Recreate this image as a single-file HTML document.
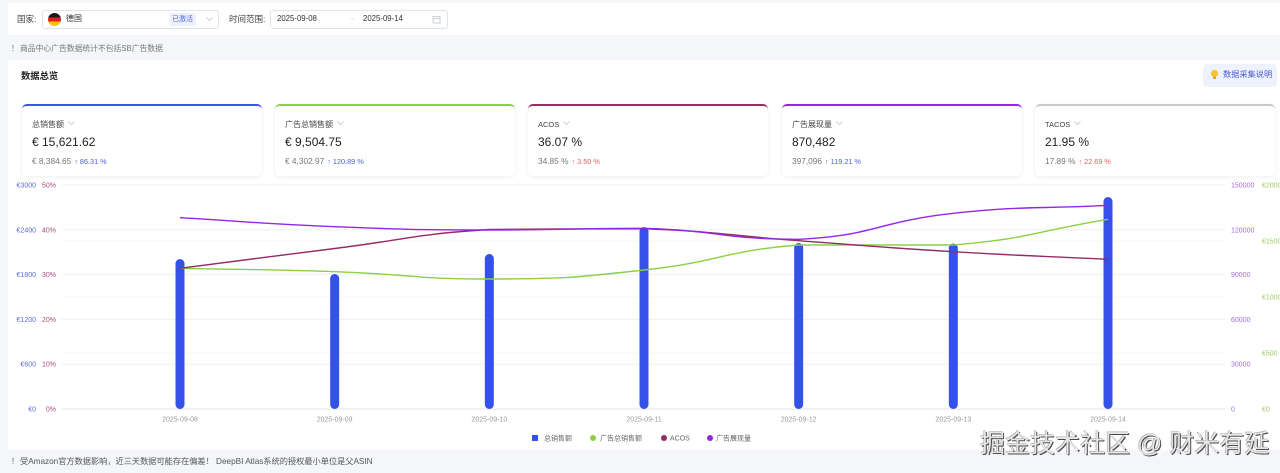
<!DOCTYPE html>
<html><head><meta charset="utf-8">
<style>
*{margin:0;padding:0;box-sizing:border-box}
body{width:1280px;height:473px;overflow:hidden;background:#f4f6f9;position:relative;font-family:"Liberation Sans","Noto Sans CJK SC",sans-serif;color:#333}
.a{position:absolute;white-space:nowrap}
.t{line-height:1}
.card{position:absolute;top:104px;width:240px;height:72px;background:#fff;border-radius:5px;box-shadow:0 1px 4px rgba(0,0,0,0.07);border-top:2.5px solid #3b55e6}
.card .ti{position:absolute;left:10px;top:13.5px;font-size:8px;color:#444;line-height:10px}
.card .ti svg{margin-left:4px;vertical-align:1px}
.card .v{position:absolute;left:10px;top:29px;font-size:12px;color:#222;line-height:14px}
.card .c{position:absolute;left:10px;top:50px;font-size:8.3px;color:#777;line-height:10px}
.card .c .up{font-size:7.3px;color:#4a5fd8;margin-left:3px}
.card .c .dn{font-size:7.3px;color:#ef5b5b;margin-left:3px}
</style></head><body>
<!-- top bar -->
<div class="a" style="left:8px;top:3px;width:1272px;height:32px;background:#fff"></div>
<div class="a t" style="left:17px;top:14.5px;font-size:8.5px;color:#444">国家:</div>
<div class="a" style="left:42px;top:10px;width:177px;height:19px;border:1px solid #e1e4ea;border-radius:3px;background:#fff"></div>
<div class="a" style="left:48px;top:13px;width:13px;height:13px;border-radius:50%;background:linear-gradient(#1a1a1a 0,#1a1a1a 33%,#dd1f1f 33%,#dd1f1f 66%,#f5c400 66%)"></div>
<div class="a t" style="left:66px;top:15px;font-size:8px;color:#333">德国</div>
<div class="a t" style="left:169px;top:13px;width:27px;height:13px;background:#edf1fe;color:#4f6ae0;font-size:7px;line-height:13px;text-align:center;border-radius:2px">已激活</div>
<svg class="a" style="left:206px;top:17px" width="7" height="5"><polyline points="0.5,0.5 3.5,3.5 6.5,0.5" fill="none" stroke="#c0c4cc" stroke-width="0.8"/></svg>
<div class="a t" style="left:229px;top:14.5px;font-size:8.5px;color:#444">时间范围:</div>
<div class="a" style="left:270px;top:10px;width:178px;height:19px;border:1px solid #e1e4ea;border-radius:3px;background:#fff"></div>
<div class="a t" style="left:277px;top:15px;font-size:7.8px;color:#333">2025-09-08</div>
<div class="a t" style="left:348px;top:15px;font-size:7px;color:#c8c8c8">→</div>
<div class="a t" style="left:363px;top:15px;font-size:7.8px;color:#333">2025-09-14</div>
<svg class="a" style="left:432px;top:15px" width="9" height="9"><rect x="1" y="1.5" width="7" height="6.5" fill="none" stroke="#c0c4cc" stroke-width="0.8"/><line x1="1" y1="3.5" x2="8" y2="3.5" stroke="#c0c4cc" stroke-width="0.8"/></svg>
<!-- note -->
<div class="a t" style="left:11px;top:45px;font-size:8px;color:#777">！</div>
<div class="a t" style="left:20px;top:45px;font-size:7.8px;color:#777">商品中心广告数据统计不包括SB广告数据</div>
<!-- panel -->
<div class="a" style="left:8px;top:60px;width:1272px;height:390px;background:#fff"></div>
<div class="a t" style="left:21px;top:72px;font-size:9.3px;font-weight:bold;color:#222">数据总览</div>
<div class="a" style="left:1203px;top:64px;width:74px;height:23px;background:#eef2fc;border-radius:4px"></div>
<svg class="a" style="left:1210px;top:69px" width="9" height="12"><circle cx="4.5" cy="4.5" r="3.6" fill="#f7c531"/><rect x="3" y="7.5" width="3" height="2.5" fill="#e6a817"/></svg>
<div class="a t" style="left:1223px;top:71px;font-size:8.2px;color:#4a5bd4">数据采集说明</div>
<!-- cards -->
<div class="card" style="left:22px;border-top-color:#3b55e6"><div class="ti">总销售额<svg width="7" height="5"><polyline points="0.5,0.5 3.5,3.5 6.5,0.5" fill="none" stroke="#c0c4cc" stroke-width="0.8"/></svg></div><div class="v">€ 15,621.62</div><div class="c">€ 8,384.65<span class="up">↑ 86.31 %</span></div></div>
<div class="card" style="left:275px;border-top-color:#8cd046"><div class="ti">广告总销售额<svg width="7" height="5"><polyline points="0.5,0.5 3.5,3.5 6.5,0.5" fill="none" stroke="#c0c4cc" stroke-width="0.8"/></svg></div><div class="v">€ 9,504.75</div><div class="c">€ 4,302.97<span class="up">↑ 120.89 %</span></div></div>
<div class="card" style="left:528px;border-top-color:#9a2b62"><div class="ti" style="font-size:7.5px">ACOS<svg width="7" height="5"><polyline points="0.5,0.5 3.5,3.5 6.5,0.5" fill="none" stroke="#c0c4cc" stroke-width="0.8"/></svg></div><div class="v">36.07 %</div><div class="c">34.85 %<span class="dn">↑ 3.50 %</span></div></div>
<div class="card" style="left:782px;border-top-color:#9327e6"><div class="ti">广告展现量<svg width="7" height="5"><polyline points="0.5,0.5 3.5,3.5 6.5,0.5" fill="none" stroke="#c0c4cc" stroke-width="0.8"/></svg></div><div class="v">870,482</div><div class="c">397,096<span class="up">↑ 119.21 %</span></div></div>
<div class="card" style="left:1035px;border-top-color:#c9c9c9"><div class="ti" style="font-size:7.5px">TACOS<svg width="7" height="5"><polyline points="0.5,0.5 3.5,3.5 6.5,0.5" fill="none" stroke="#c0c4cc" stroke-width="0.8"/></svg></div><div class="v">21.95 %</div><div class="c">17.89 %<span class="dn">↑ 22.69 %</span></div></div>
<!-- chart -->
<svg class="a" style="left:0;top:0" width="1280" height="473" font-family="Liberation Sans, Noto Sans CJK SC, sans-serif">
<g stroke="#f6f7f9" stroke-width="1">
<line x1="62" y1="241" x2="1225" y2="241"/><line x1="62" y1="297" x2="1225" y2="297"/><line x1="62" y1="353" x2="1225" y2="353"/>
</g>
<g stroke="#eeeff2" stroke-width="1">
<line x1="62" y1="185" x2="1225" y2="185"/><line x1="62" y1="229.8" x2="1225" y2="229.8"/><line x1="62" y1="274.6" x2="1225" y2="274.6"/><line x1="62" y1="319.4" x2="1225" y2="319.4"/><line x1="62" y1="364.2" x2="1225" y2="364.2"/>
</g>
<line x1="62" y1="409" x2="1225" y2="409" stroke="#e0e3e8" stroke-width="1"/>
<g font-size="7" fill="#5b6ad8" text-anchor="end">
<text x="36" y="187.5">€3000</text><text x="36" y="232.3">€2400</text><text x="36" y="277.1">€1800</text><text x="36" y="321.9">€1200</text><text x="36" y="366.7">€600</text><text x="36" y="411.5">€0</text>
</g>
<g font-size="7" fill="#a4507a" text-anchor="end">
<text x="56" y="187.5">50%</text><text x="56" y="232.3">40%</text><text x="56" y="277.1">30%</text><text x="56" y="321.9">20%</text><text x="56" y="366.7">10%</text><text x="56" y="411.5">0%</text>
</g>
<g font-size="7" fill="#a36ae8">
<text x="1231" y="187.5">150000</text><text x="1231" y="232.3">120000</text><text x="1231" y="277.1">90000</text><text x="1231" y="321.9">60000</text><text x="1231" y="366.7">30000</text><text x="1231" y="411.5">0</text>
</g>
<g font-size="7" fill="#9ccc5a">
<text x="1262" y="187.5">€2000</text><text x="1262" y="243.5">€1500</text><text x="1262" y="299.5">€1000</text><text x="1262" y="355.5">€500</text><text x="1262" y="411.5">€0</text>
</g>
<g font-size="7" fill="#9a9a9a" text-anchor="middle">
<text x="180" y="421.5">2025-09-08</text><text x="334.67" y="421.5">2025-09-09</text><text x="489.33" y="421.5">2025-09-10</text><text x="644" y="421.5">2025-09-11</text><text x="798.67" y="421.5">2025-09-12</text><text x="953.33" y="421.5">2025-09-13</text><text x="1108" y="421.5">2025-09-14</text>
</g>
<g fill="#3452ea">
<rect x="175.5" y="259" width="9" height="150" rx="4.5"/>
<rect x="330.17" y="274" width="9" height="135" rx="4.5"/>
<rect x="484.83" y="254" width="9" height="155" rx="4.5"/>
<rect x="639.5" y="227" width="9" height="182" rx="4.5"/>
<rect x="794.17" y="243" width="9" height="166" rx="4.5"/>
<rect x="948.83" y="243.5" width="9" height="165.5" rx="4.5"/>
<rect x="1103.5" y="197" width="9" height="212" rx="4.5"/>
</g>
<path d="M180,268.3 C257.3,270 257.3,269 334.67,271.7 C412,274.4 412,279 489.33,279 C566.67,278.6 566.67,278.5 644,270 C721.33,261.5 721.33,251.25 798.67,245 C876,245 876,245 953.33,245 C1030.67,238.6 1030.67,232.15 1108,219.3" fill="none" stroke="#8cd046" stroke-width="1.4"/>
<path d="M180,268.3 C257.3,258.4 257.3,258.2 334.67,248.5 C412,238.8 412,234.4 489.33,229.5 C566.67,228.8 566.67,228.8 644,228.8 C721.33,231.6 721.33,235 798.67,240.7 C876,246.4 876,247.05 953.33,251.7 C1030.67,256.35 1030.67,255.5 1108,259.3" fill="none" stroke="#952a66" stroke-width="1.4"/>
<path d="M180,217.7 C257.3,222.2 257.3,223.6 334.67,226.7 C412,229.8 412,229.6 489.33,230 C566.67,230 566.67,228.3 644,228.3 C721.33,230.6 721.33,239.3 798.67,239.3 C876,235.55 876,221.8 953.33,213.3 C1030.67,205.3 1030.67,209.3 1108,205.3" fill="none" stroke="#9226e6" stroke-width="1.4"/>
<!-- legend -->
<rect x="532" y="435" width="6" height="6" fill="#3452ea"/>
<text x="544" y="440.5" font-size="7" fill="#666">总销售额</text>
<circle cx="593" cy="438" r="3" fill="#8cd046"/>
<text x="600" y="440.5" font-size="7" fill="#666">广告总销售额</text>
<circle cx="664" cy="438" r="3" fill="#952a66"/>
<text x="670" y="440.5" font-size="7" fill="#666">ACOS</text>
<circle cx="710" cy="438" r="3" fill="#9226e6"/>
<text x="716" y="440.5" font-size="7" fill="#666">广告展现量</text>
</svg>
<!-- footer -->
<div class="a t" style="left:11px;top:458px;font-size:8px;color:#666">！</div>
<div class="a t" style="left:20px;top:458px;font-size:8.2px;color:#555">受Amazon官方数据影响，近三天数据可能存在偏差！ DeepBI Atlas系统的授权最小单位是父ASIN</div>
<!-- watermark -->
<div class="a" style="left:980px;top:430px;font-size:25px;line-height:28px;color:#e6e6e6;text-shadow:1px 1px 0 #4a4a4a,-0.5px -0.5px 0 #9a9a9a;font-family:'Liberation Sans','Noto Sans CJK SC',sans-serif">掘金技术社区 @ 财米有延</div>
</body></html>
